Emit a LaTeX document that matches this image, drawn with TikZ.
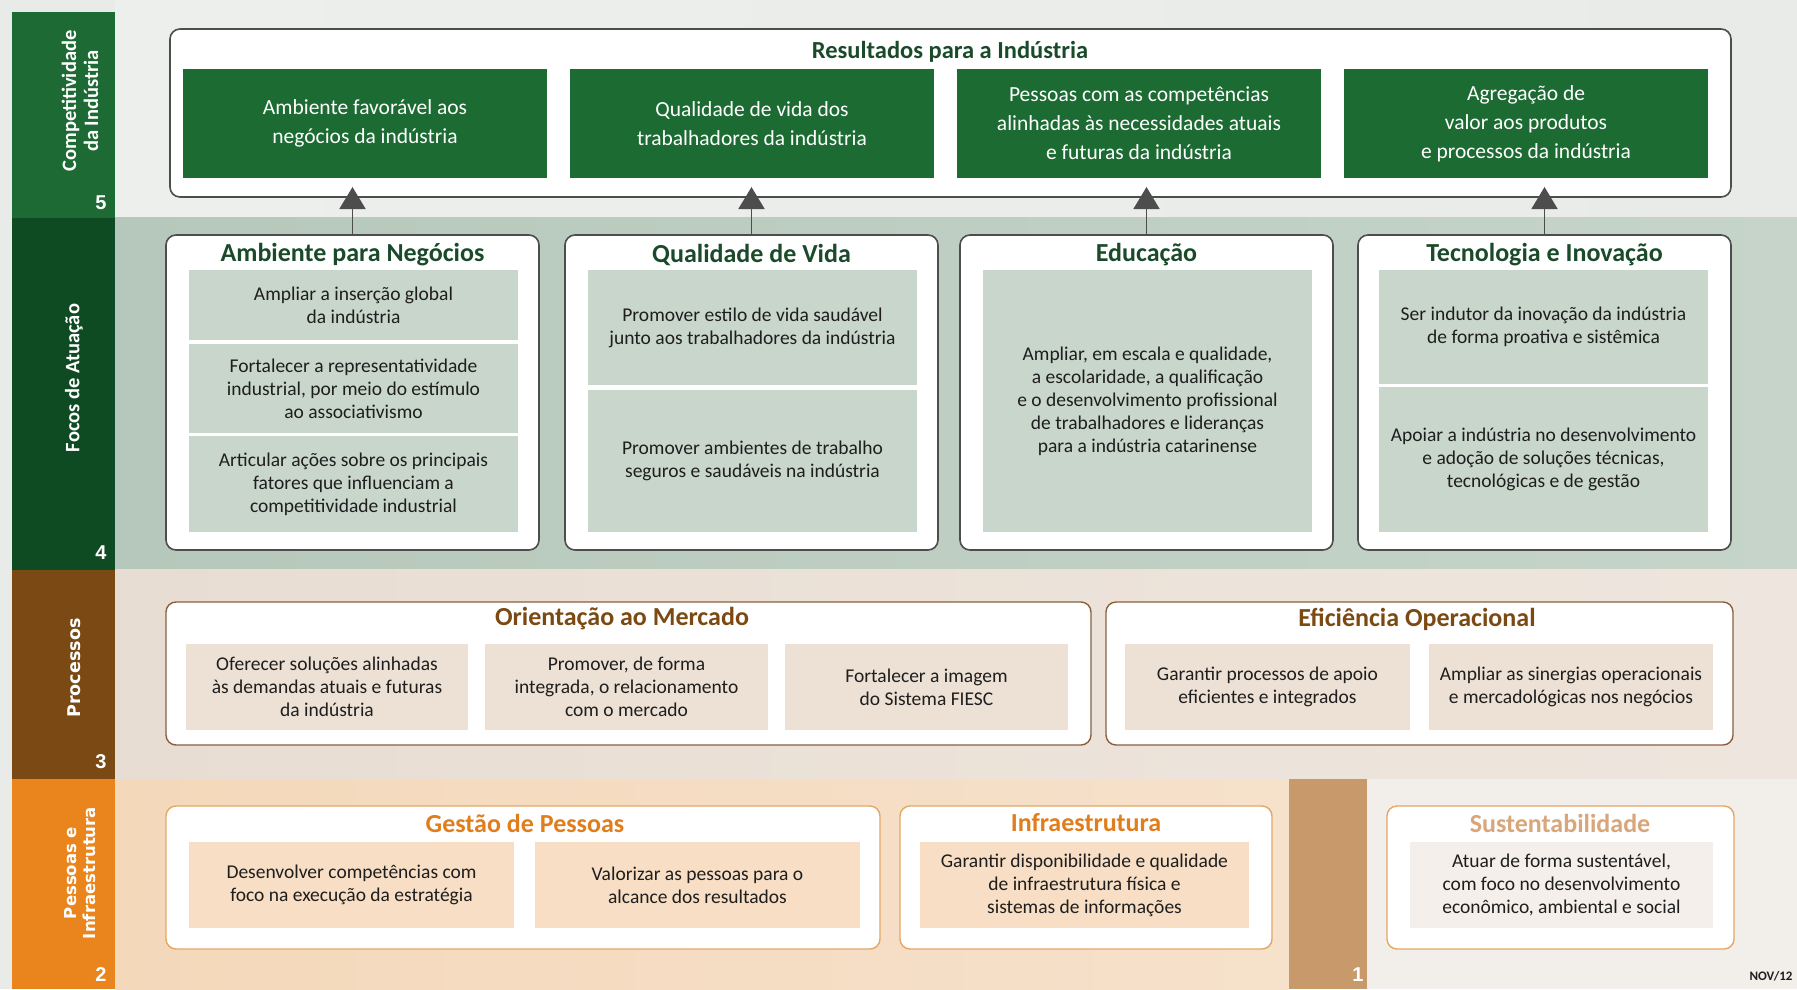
\documentclass[tikz,border=0pt]{standalone}
\usepackage{fontspec}
\setmainfont{Carlito}
\newfontfamily\verd{DejaVu Sans}
\newfontfamily\arial{Liberation Sans}
\usetikzlibrary{arrows.meta}
\definecolor{pagebg}{HTML}{E9EBE9}
\definecolor{bgfive}{HTML}{EDEFED}
\definecolor{barfive}{HTML}{1D6A34}
\definecolor{greenbox}{HTML}{1C6B32}
\definecolor{barfour}{HTML}{0E4A22}
\definecolor{bgfour}{HTML}{B6C8BB}
\definecolor{bgfourR}{HTML}{C6D4C9}
\definecolor{cellfour}{HTML}{C9D6CB}
\definecolor{barthree}{HTML}{7A4914}
\definecolor{bgthree}{HTML}{E8DDD2}
\definecolor{bgthreeR}{HTML}{EEE6DE}
\definecolor{cellthree}{HTML}{EDE1D5}
\definecolor{bartwo}{HTML}{E9851C}
\definecolor{bgtwo}{HTML}{F4D8BA}
\definecolor{bgtwoR}{HTML}{F6E1CB}
\definecolor{celltwo}{HTML}{F7DEC4}
\definecolor{colone}{HTML}{C89A6B}
\definecolor{bgone}{HTML}{F2EEEA}
\definecolor{cellone}{HTML}{F4EFEA}
\definecolor{titlefour}{HTML}{1A4A2A}
\definecolor{titlethree}{HTML}{7B4A12}
\definecolor{titletwo}{HTML}{E07D1C}
\definecolor{titleone}{HTML}{D9A67A}
\definecolor{framegrey}{HTML}{4D4D4D}
\definecolor{framethree}{HTML}{8B5E3C}
\definecolor{frametwo}{HTML}{E3A766}
\definecolor{textdark}{HTML}{1E1E1E}
\newcommand\fsz[2]{\fontsize{#1}{#2}\selectfont}
\begin{document}
\begin{tikzpicture}[x=1pt,y=-1pt,
  box/.style={anchor=north west, inner sep=0pt, outer sep=0pt},
  frameG/.style={box, draw=framegrey, line width=1.6pt, rounded corners=10pt, fill=white},
  frameB/.style={box, draw=framethree, line width=1.4pt, rounded corners=10pt, fill=white},
  frameO/.style={box, draw=frametwo, line width=1.4pt, rounded corners=10pt, fill=white},
  gbox/.style={box, fill=greenbox, text=white, align=center, font=\fsz{21.5}{29}},
  cell/.style={box, align=center, text=textdark, font=\fsz{19.5}{23}},
  cellG/.style={cell, fill=cellfour},
  cellB/.style={cell, fill=cellthree},
  cellO/.style={cell, fill=celltwo},
  cellL/.style={cell, fill=cellone},
  ttl/.style={inner sep=0pt, font=\bfseries\fsz{26}{28}},
  sidelbl/.style={rotate=90, align=center, text=white, inner sep=0pt},
  num/.style={text=white, inner sep=0pt, font=\arial\bfseries\fsz{20}{22}},
  upar/.style={draw=framegrey, line width=1.8pt, -{Triangle[width=26pt,length=22pt]}}
]
\useasboundingbox (0,0) rectangle (1797,989);
% backgrounds
\fill[pagebg] (0,0) rectangle (1797,989);
\shade[left color=bgfive, right color=pagebg] (115,0) rectangle (1797,217.7);
\shade[left color=bgfour, right color=bgfourR] (115,217.7) rectangle (1797,569.6);
\shade[left color=bgthree, right color=bgthreeR] (115,569.6) rectangle (1797,779.3);
\shade[left color=bgtwo, right color=bgtwoR] (115,779.3) rectangle (1289.3,989);
\fill[bgone] (1367.2,779.3) rectangle (1797,989);
\node[box, fill=colone, minimum width=77.9, minimum height=209.7] (col1) at (1289.3,779.3) {};
% side bars
\node[box, fill=barfive, minimum width=103.5, minimum height=206.2] (bar5) at (11.5,11.5) {};
\node[box, fill=barfour, minimum width=103.5, minimum height=351.9] (bar4) at (11.5,217.7) {};
\node[box, fill=barthree, minimum width=103.5, minimum height=209.7] (bar3) at (11.5,569.6) {};
\node[box, fill=bartwo, minimum width=103.5, minimum height=209.7] (bar2) at (11.5,779.3) {};
\node[sidelbl, font=\bfseries\fsz{20.5}{22}] (l5) at (80,101) {Competitividade\\da Indústria};
\node[sidelbl, font=\bfseries\fsz{20.5}{22}] (l4) at (74,378) {Focos de Atuação};
\node[sidelbl, font=\verd\bfseries\fsz{17.5}{19}] (l3) at (74,668) {Processos};
\node[sidelbl, font=\verd\bfseries\fsz{16.5}{19}] (l2) at (80,873) {Pessoas e\\Infraestrutura};
\node[num] (n5) at (101,203) {5};
\node[num] (n4) at (101,553) {4};
\node[num] (n3) at (101,762) {3};
\node[num] (n2) at (101,975) {2};
\node[num] (n1) at (1358,975) {1};
\node[inner sep=0pt, font=\bfseries\fsz{13}{15}, text=textdark] (nov) at (1771,976) {NOV/12};
% level 5
\node[frameG, minimum width=1561, minimum height=168] (top) at (170,29) {};
\node[ttl, text=titlefour, font=\bfseries\fsz{24.5}{28}] (toptitle) at (950,52) {Resultados para a Indústria};
\node[gbox, minimum width=364, minimum height=109] (g1) at (183,69) {Ambiente favorável aos\\negócios da indústria};
\node[gbox, minimum width=364, minimum height=109] (g2) at (570,69) {Qualidade de vida dos\\trabalhadores da indústria};
\node[gbox, minimum width=364, minimum height=109] (g3) at (957,69) {Pessoas com as competências\\alinhadas às necessidades atuais\\e futuras da indústria};
\node[gbox, minimum width=364, minimum height=109] (g4) at (1344,69) {Agregação de\\valor aos produtos\\e processos da indústria};
% level 4
\node[frameG, minimum width=373, minimum height=315] (fA) at (166,235) {};
\node[frameG, minimum width=373, minimum height=315] (fB) at (565,235) {};
\node[frameG, minimum width=373, minimum height=315] (fC) at (960,235) {};
\node[frameG, minimum width=373, minimum height=315] (fD) at (1358,235) {};
\node[ttl, text=titlefour] (tA) at (352.5,255) {Ambiente para Negócios};
\node[ttl, text=titlefour] (tB) at (751.5,255) {Qualidade de Vida};
\node[ttl, text=titlefour] (tC) at (1146.5,255) {Educação};
\node[ttl, text=titlefour] (tD) at (1544.5,255) {Tecnologia e Inovação};
\node[cellG, minimum width=329, minimum height=70] (a1) at (189,270) {Ampliar a inserção global\\da indústria};
\node[cellG, minimum width=329, minimum height=89] (a2) at (189,344) {Fortalecer a representatividade\\industrial, por meio do estímulo\\ao associativismo};
\node[cellG, minimum width=329, minimum height=96] (a3) at (189,436) {Articular ações sobre os principais\\fatores que influenciam a\\competitividade industrial};
\node[cellG, minimum width=329, minimum height=115] (b1) at (588,270) {Promover estilo de vida saudável\\junto aos trabalhadores da indústria};
\node[cellG, minimum width=329, minimum height=142] (b2) at (588,390) {Promover ambientes de trabalho\\seguros e saudáveis na indústria};
\node[cellG, minimum width=329, minimum height=262] (c1) at (983,270) {Ampliar, em escala e qualidade,\\a escolaridade, a qualificação\\e o desenvolvimento profissional\\de trabalhadores e lideranças\\para a indústria catarinense};
\node[cellG, minimum width=329, minimum height=114] (d1) at (1379,270) {Ser indutor da inovação da indústria\\de forma proativa e sistêmica};
\node[cellG, minimum width=329, minimum height=145] (d2) at (1379,387) {Apoiar a indústria no desenvolvimento\\e adoção de soluções técnicas,\\tecnológicas e de gestão};
% arrows
\coordinate (pA) at (352.5,187);
\coordinate (pB) at (751.5,187);
\coordinate (pC) at (1146.5,187);
\coordinate (pD) at (1544.5,187);
\draw[upar] (fA.north) -- (pA);
\draw[upar] (fB.north) -- (pB);
\draw[upar] (fC.north) -- (pC);
\draw[upar] (fD.north) -- (pD);
% level 3
\node[frameB, minimum width=925, minimum height=143] (om) at (166,602) {};
\node[frameB, minimum width=627, minimum height=143] (eo) at (1106,602) {};
\node[ttl, text=titlethree] (tom) at (622,619) {Orientação ao Mercado};
\node[ttl, text=titlethree] (teo) at (1417,619) {Eficiência Operacional};
\node[cellB, minimum width=282, minimum height=86] (o1) at (186,644) {Oferecer soluções alinhadas\\às demandas atuais e futuras\\da indústria};
\node[cellB, minimum width=283, minimum height=86] (o2) at (485,644) {Promover, de forma\\integrada, o relacionamento\\com o mercado};
\node[cellB, minimum width=283, minimum height=86] (o3) at (785,644) {Fortalecer a imagem\\do Sistema FIESC};
\node[cellB, minimum width=285, minimum height=86] (e1) at (1125,644) {Garantir processos de apoio\\eficientes e integrados};
\node[cellB, minimum width=284, minimum height=86] (e2) at (1429,644) {Ampliar as sinergias operacionais\\e mercadológicas nos negócios};
% level 2 and 1
\node[frameO, minimum width=714, minimum height=143] (gp) at (166,806) {};
\node[frameO, minimum width=372, minimum height=143] (inf) at (900,806) {};
\node[frameO, minimum width=347, minimum height=143] (sus) at (1387,806) {};
\node[ttl, text=titletwo] (tgp) at (525,823) {Gestão de Pessoas};
\node[ttl, text=titletwo] (tinf) at (1086,823) {Infraestrutura};
\node[ttl, text=titleone] (tsus) at (1560,823) {Sustentabilidade};
\node[cellO, minimum width=325, minimum height=86] (p1) at (189,842) {Desenvolver competências com\\foco na execução da estratégia};
\node[cellO, minimum width=325, minimum height=86] (p2) at (535,842) {Valorizar as pessoas para o\\alcance dos resultados};
\node[cellO, minimum width=329, minimum height=86] (i1) at (920,842) {Garantir disponibilidade e qualidade\\de infraestrutura física e\\sistemas de informações};
\node[cellL, minimum width=303, minimum height=86] (s1) at (1410,842) {Atuar de forma sustentável,\\com foco no desenvolvimento\\econômico, ambiental e social};
\end{tikzpicture}
\end{document}
